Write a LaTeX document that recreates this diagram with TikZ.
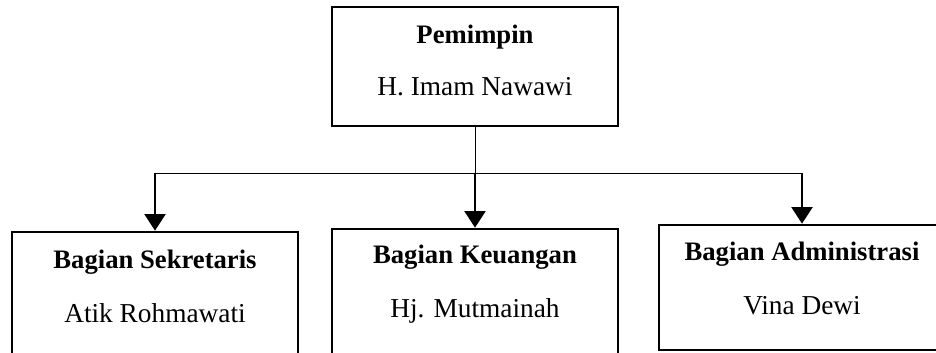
\documentclass[tikz,border=0pt]{standalone}
\usepackage{fontspec}
\setmainfont{Liberation Serif}
\usetikzlibrary{arrows.meta}

\begin{document}
\begin{tikzpicture}[x=0.45pt, y=-0.45pt,
  font=\fontsize{12pt}{14pt}\selectfont,
  kotak/.style={draw, line width=1.2pt, minimum width=128.7pt, inner sep=0pt},
  judul/.style={anchor=base, font=\fontsize{12pt}{14pt}\selectfont\bfseries},
  nama/.style={anchor=base, font=\fontsize{12.3pt}{14pt}\selectfont},
  garis/.style={line width=0.45pt},
  panah/.style={-{Triangle[width=9.5pt,length=7.5pt]}, line width=0.9pt}]
  \useasboundingbox (0,0) rectangle (936,352);
  \clip (0,0) rectangle (936,352);
  % kotak-kotak
  \node[kotak, minimum height=53.55pt] (pimpinan) at (475,66.5) {};
  \node[kotak, minimum height=63pt] (sekretaris) at (155,302) {};
  \node[kotak, minimum height=63pt] (keuangan) at (475,299) {};
  \node[kotak, minimum height=56.25pt] (administrasi) at (802,287.5) {};
  % isi
  \node[judul] (pimpinan-judul) at (475,43) {Pemimpin};
  \node[nama] (pimpinan-nama) at (475,95) {H. Imam Nawawi};
  \node[judul] (sekretaris-judul) at (155,268) {Bagian Sekretaris};
  \node[nama] (sekretaris-nama) at (155,322) {Atik Rohmawati};
  \node[judul] (keuangan-judul) at (475,263) {Bagian Keuangan};
  \node[nama] (keuangan-nama) at (475,317) {Hj. Mutmainah};
  \node[judul] (administrasi-judul) at (802,260) {Bagian Administrasi};
  \node[nama] (administrasi-nama) at (802,314) {Vina Dewi};
  % garis
  \coordinate (cabang) at (pimpinan.south |- 0,173);
  \draw[garis] (pimpinan.south) -- (cabang);
  \draw[garis] (sekretaris.north |- cabang) -- (administrasi.north |- cabang);
  \foreach \b in {sekretaris, keuangan, administrasi}
    \draw[panah] (\b.north |- cabang) -- (\b.north);
\end{tikzpicture}
\end{document}
